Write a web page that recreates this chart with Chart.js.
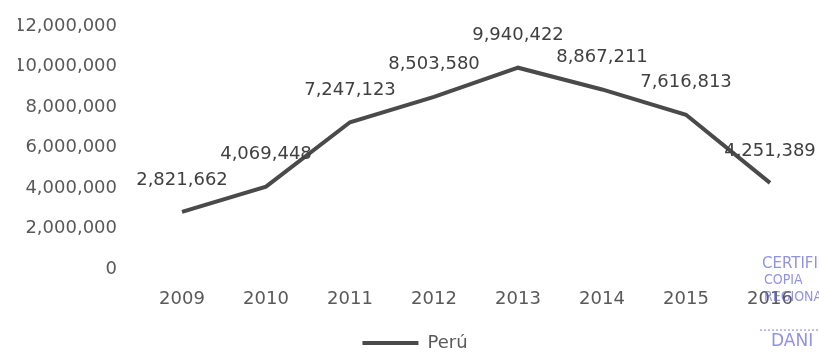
<!DOCTYPE html>
<html>
<head>
<meta charset="utf-8">
<script src="https://cdn.jsdelivr.net/npm/chart.js@4"></script>
<style>
  html, body { margin: 0; padding: 0; background: #fff; }
  #wrap { width: 819px; height: 357px; }
</style>
</head>
<body>
<div id="wrap"><canvas id="chart"></canvas></div>
<script>
// Years on the x axis
const years = ["2009", "2010", "2011", "2012", "2013", "2014", "2015", "2016"];

// Values for Perú
const peru = [2821662, 4069448, 7247123, 8503580, 9940422, 8867211, 7616813, 4251389];

// y axis ticks
const yTicks = [0, 2000000, 4000000, 6000000, 8000000, 10000000, 12000000];

// Stamp text in the corner of the scan
const stampLines = ["CERTIFICA", "COPIA", "REGIONAL", "...............", "DANI"];

const fmt = (v) => v.toLocaleString("en-US");
const font = "'DejaVu Sans', sans-serif";

// Draws the value above each point
const valueLabels = {
  id: "valueLabels",
  afterDatasetsDraw(chart) {
    const ctx = chart.ctx;
    const meta = chart.getDatasetMeta(0);
    ctx.save();
    ctx.font = "18px " + font;
    ctx.fillStyle = "#404040";
    ctx.textAlign = "center";
    ctx.textBaseline = "middle";
    meta.data.forEach((pt, i) => {
      ctx.fillText(fmt(chart.data.datasets[0].data[i]), pt.x, pt.y - 32);
    });
    ctx.restore();
  },
};

// Blue stamp, cut by the right edge
const stamp = {
  id: "stamp",
  afterDraw(chart) {
    const ctx = chart.ctx;
    ctx.save();
    ctx.fillStyle = "rgba(100, 100, 215, 0.7)";
    ctx.textAlign = "left";
    ctx.textBaseline = "middle";
    ctx.font = "15px " + font;
    ctx.fillText(stampLines[0], 762, 264);
    ctx.font = "14px 'DejaVu Sans Condensed', sans-serif";
    ctx.fillText(stampLines[1], 764, 280);
    ctx.fillText(stampLines[2], 764, 297);
    ctx.fillText(stampLines[3], 759, 327);
    ctx.font = "17px " + font;
    ctx.fillText(stampLines[4], 771, 342);
    ctx.restore();
  },
};

new Chart(document.getElementById("chart"), {
  type: "line",
  plugins: [valueLabels, stamp],
  data: {
    labels: years,
    datasets: [
      {
        label: "Perú",
        data: peru,
        borderColor: "#4a4a4a",
        backgroundColor: "#4a4a4a",
        borderWidth: 4,
        pointRadius: 0,
        pointHoverRadius: 0,
        tension: 0,
        pointStyle: "line",
      },
    ],
  },
  options: {
    responsive: true,
    maintainAspectRatio: false,
    animation: false,
    layout: { padding: { top: 26, right: 7, bottom: -5, left: 18 } },
    scales: {
      x: {
        offset: true,
        grid: { display: false, drawTicks: false },
        border: { display: false },
        ticks: { color: "#595959", font: { family: font, size: 18 }, padding: 20, maxRotation: 0 },
        afterFit: (s) => { s.height = 65; },
      },
      y: {
        min: 0,
        max: 12000000,
        grid: { display: false, drawTicks: false },
        border: { display: false },
        afterBuildTicks: (s) => { s.ticks = yTicks.map((v) => ({ value: v })); },
        ticks: {
          color: "#595959",
          font: { family: font, size: 18 },
          padding: 23,
          callback: (v) => fmt(v),
        },
        afterFit: (s) => {
          s.width = 122;
          s.paddingTop = 0;
          s.paddingBottom = 0;
        },
      },
    },
    plugins: {
      tooltip: { enabled: false },
      legend: {
        position: "bottom",
        labels: {
          usePointStyle: true,
          pointStyleWidth: 56,
          padding: 0,
          color: "#595959",
          font: { family: font, size: 18 },
        },
      },
    },
  },
});
</script>
</body>
</html>
